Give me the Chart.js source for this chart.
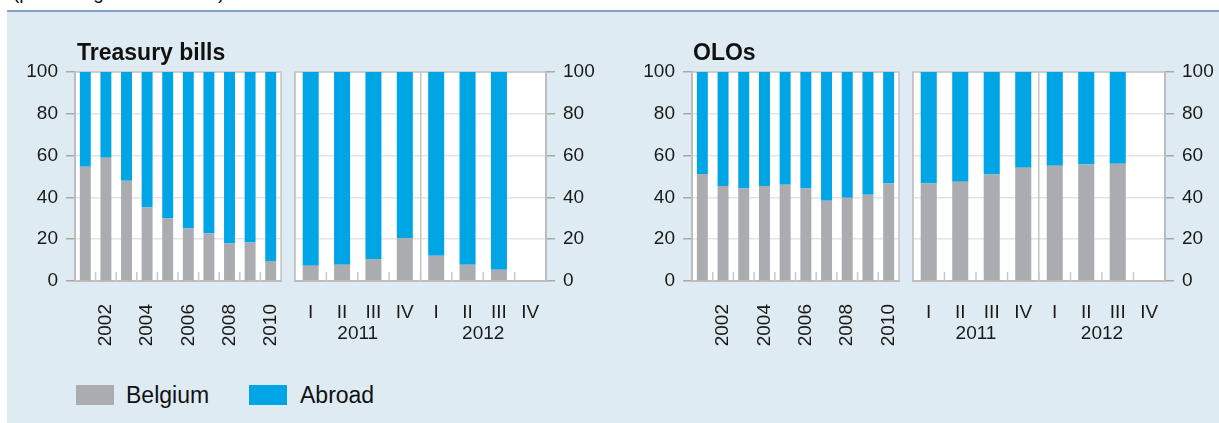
<!DOCTYPE html>
<html>
<head>
<meta charset="utf-8">
<script src="https://cdn.jsdelivr.net/npm/chart.js@4.4.0/dist/chart.umd.min.js"></script>
<style>
  body { margin: 0; width: 1219px; height: 423px; background: #fff; position: relative; overflow: hidden;
         font-family: 'Liberation Sans', Arial, sans-serif; color: #111; }
  .note { position: absolute; left: 13px; top: -17px; font-size: 19px; line-height: 19px; white-space: nowrap; }
  .rule { position: absolute; left: 7px; top: 10px; width: 1212px; height: 2px; background: #84a2cb; }
  .panel { position: absolute; left: 7px; top: 12px; width: 1212px; height: 411px; background: #dfebf2; }
  .box { position: absolute; }
  .box canvas { display: block; }
  .title { position: absolute; top: 41px; font-size: 23px; line-height: 23px; font-weight: bold; color: #111; }
  .swatch { position: absolute; top: 385px; width: 38px; height: 20px; }
  .legend-text { position: absolute; top: 384px; font-size: 23px; line-height: 23px; color: #111; }
</style>
</head>
<body>
<div class="note">(percentages of the total)</div>
<div class="rule"></div>
<div class="panel"></div>

<div class="box" style="left:0px;top:60px"><canvas id="billsAnnualChart" width="290" height="300"></canvas></div>
<div class="box" style="left:287px;top:60px"><canvas id="billsQuarterlyChart" width="320" height="300"></canvas></div>
<div class="box" style="left:607px;top:60px"><canvas id="oloAnnualChart" width="300" height="300"></canvas></div>
<div class="box" style="left:907px;top:60px"><canvas id="oloQuarterlyChart" width="312" height="300"></canvas></div>

<div class="title" style="left:77px">Treasury bills</div>
<div class="title" style="left:693px">OLOs</div>

<div class="swatch" style="left:76px;background:#abacb0"></div>
<div class="legend-text" style="left:126px">Belgium</div>
<div class="swatch" style="left:249px;background:#00a5e6"></div>
<div class="legend-text" style="left:300px">Abroad</div>

<script>
const annualYears = ['2001', '2002', '2003', '2004', '2005', '2006', '2007', '2008', '2009', '2010'];
const quarters = ['I', 'II', 'III', 'IV', 'I', 'II', 'III', 'IV'];
const quarterYears = ['2011', '2012'];

const billsBelgiumAnnual = [54.7, 59, 48, 35.2, 29.9, 25.1, 22.7, 17.9, 18.4, 9.6];
const billsAbroadAnnual = [45.3, 41, 52, 64.8, 70.1, 74.9, 77.3, 82.1, 81.6, 90.4];
const billsBelgiumQuarterly = [7.3, 7.8, 10.5, 20.6, 12.1, 7.8, 5.4, null];
const billsAbroadQuarterly = [92.7, 92.2, 89.5, 79.4, 87.9, 92.2, 94.6, null];

const oloBelgiumAnnual = [51.2, 45.4, 44.2, 45.4, 46.1, 44.2, 38.4, 39.8, 41.3, 46.6];
const oloAbroadAnnual = [48.8, 54.6, 55.8, 54.6, 53.9, 55.8, 61.6, 60.2, 58.7, 53.4];
const oloBelgiumQuarterly = [46.6, 47.5, 50.9, 54.2, 55.2, 55.7, 56.1, null];
const oloAbroadQuarterly = [53.4, 52.5, 49.1, 45.8, 44.8, 44.3, 43.9, null];

const GREY = '#abacb0';
const BLUE = '#00a5e6';
const AXIS_GREY = '#a9a9a9';
const GRID_GREY = '#e4e4e4';
const FRAME_GREY = '#c4c4c4';
const TEXT = '#1a1a1a';
const tickFont = { family: "'Liberation Sans', Arial, sans-serif", size: 19 };

// white plot area, grey frame, little ticks between the bars
const panelPlugin = {
  id: 'panel',
  beforeDraw(chart) {
    const a = chart.chartArea;
    const ctx = chart.ctx;
    ctx.save();
    ctx.fillStyle = '#ffffff';
    ctx.fillRect(a.left, a.top, a.right - a.left, a.bottom - a.top);
    ctx.restore();
  },
  beforeDatasetsDraw(chart) {
    const a = chart.chartArea;
    const ctx = chart.ctx;
    ctx.save();
    ctx.strokeStyle = FRAME_GREY;
    ctx.lineWidth = 1.5;
    ctx.strokeRect(a.left, a.top, a.right - a.left, a.bottom - a.top);
    ctx.restore();
  },
  afterDatasetsDraw(chart) {
    const xs = chart.scales.x;
    const a = chart.chartArea;
    const ctx = chart.ctx;
    ctx.save();
    ctx.strokeStyle = '#c8c8c8';
    ctx.lineWidth = 1.5;
    for (let i = 1; i < xs.ticks.length; i++) {
      const px = (xs.getPixelForValue(i - 1) + xs.getPixelForValue(i)) / 2;
      ctx.beginPath();
      ctx.moveTo(px, a.bottom);
      ctx.lineTo(px, a.bottom - 9);
      ctx.stroke();
    }
    ctx.restore();
  }
};

const noPadding = function (scale) {
  scale.paddingLeft = 0;
  scale.paddingRight = 0;
  scale.paddingTop = 0;
  scale.paddingBottom = 0;
};

const BuildChart = function (canvasId, labels, belgium, abroad, setup) {
  const scales = {
    x: {
      stacked: true,
      offset: true,
      weight: 0,
      grid: { display: false },
      border: { display: true, color: AXIS_GREY, width: 2 },
      ticks: setup.xTicks,
      afterFit: scale => { noPadding(scale); scale.height = setup.xHeight; }
    },
    y: {
      stacked: true,
      min: 0,
      max: 100,
      position: setup.yPosition,
      grid: { color: GRID_GREY, tickColor: AXIS_GREY, tickLength: 9, lineWidth: 1.5 },
      border: { display: true, color: AXIS_GREY, width: 2 },
      ticks: { stepSize: 20, font: tickFont, color: TEXT, padding: 8 },
      afterFit: scale => { noPadding(scale); scale.width = setup.yWidth; }
    }
  };

  if (setup.years) {
    scales.x2 = {
      type: 'category',
      labels: setup.years,
      position: 'bottom',
      offset: true,
      weight: 1,
      grid: { display: true, drawOnChartArea: true, drawTicks: false, offset: true, color: FRAME_GREY, lineWidth: 1.5 },
      border: { display: false },
      ticks: { font: tickFont, color: TEXT, padding: 0 },
      afterFit: scale => { noPadding(scale); scale.height = 38; }
    };
  }

  const data = {
    labels: labels,
    datasets: [{
      label: 'Belgium',
      xAxisID: 'x',
      backgroundColor: GREY,
      data: belgium,
      barPercentage: setup.barPercentage,
      categoryPercentage: 1
    }, {
      label: 'Abroad',
      xAxisID: 'x',
      backgroundColor: BLUE,
      data: abroad,
      barPercentage: setup.barPercentage,
      categoryPercentage: 1
    }]
  };

  const config = {
    type: 'bar',
    data: data,
    options: {
      responsive: false,
      animation: false,
      devicePixelRatio: 1,
      layout: { padding: setup.padding },
      plugins: { legend: { display: false }, tooltip: { enabled: false } },
      scales: scales
    },
    plugins: [panelPlugin]
  };

  return new Chart(document.getElementById(canvasId), config);
};

const annualTicks = {
  font: tickFont,
  color: TEXT,
  padding: 15,
  autoSkip: false,
  minRotation: 90,
  maxRotation: 90,
  callback: function (value, index) {
    return index % 2 === 1 ? this.getLabelForValue(value) : '';
  }
};

const quarterTicks = {
  font: tickFont,
  color: TEXT,
  padding: 12,
  autoSkip: false,
  maxRotation: 0
};

BuildChart('billsAnnualChart', annualYears, billsBelgiumAnnual, billsAbroadAnnual, {
  xTicks: annualTicks, xHeight: 79, yPosition: 'left', yWidth: 75,
  barPercentage: 0.53, padding: { left: 0, top: 12, right: 9, bottom: 0 }
});

BuildChart('billsQuarterlyChart', quarters, billsBelgiumQuarterly, billsAbroadQuarterly, {
  xTicks: quarterTicks, xHeight: 41, years: quarterYears, yPosition: 'right', yWidth: 61,
  barPercentage: 0.51, padding: { left: 8, top: 12, right: 0, bottom: 0 }
});

BuildChart('oloAnnualChart', annualYears, oloBelgiumAnnual, oloAbroadAnnual, {
  xTicks: annualTicks, xHeight: 79, yPosition: 'left', yWidth: 85,
  barPercentage: 0.53, padding: { left: 0, top: 12, right: 8, bottom: 0 }
});

BuildChart('oloQuarterlyChart', quarters, oloBelgiumQuarterly, oloAbroadQuarterly, {
  xTicks: quarterTicks, xHeight: 41, years: quarterYears, yPosition: 'right', yWidth: 54,
  barPercentage: 0.51, padding: { left: 6, top: 12, right: 0, bottom: 0 }
});
</script>
</body>
</html>
